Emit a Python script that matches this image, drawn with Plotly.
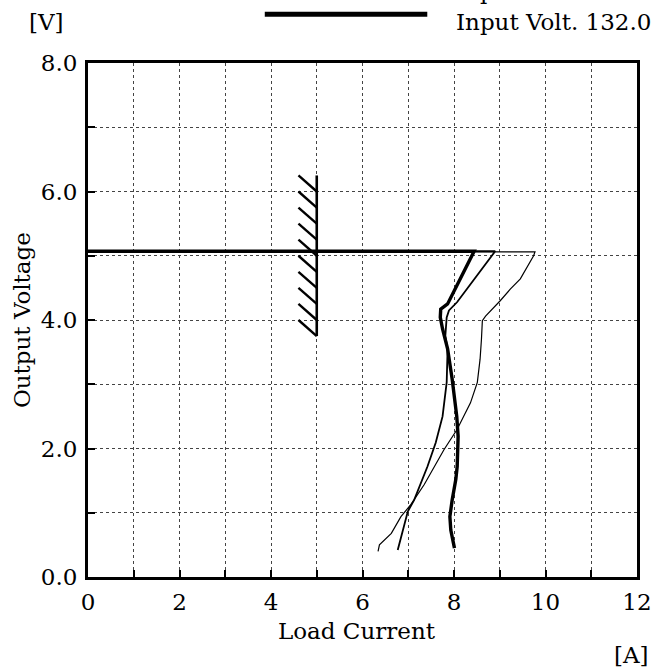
import numpy as np
import plotly.graph_objects as go

# Output voltage vs. load current (foldback characteristic) for three input voltages
# Heaviest trace: Input Volt. 132.0
i_132 = [0.0, 8.44, 7.86, 7.71, 7.70, 7.75, 7.86, 7.96, 8.06, 8.09, 8.07, 8.04, 7.96, 7.91, 7.93, 8.01]
v_132 = [5.07, 5.07, 4.25, 4.17, 4.04, 3.86, 3.55, 3.08, 2.50, 2.19, 1.72, 1.52, 1.20, 0.94, 0.73, 0.45]

# Medium-weight trace
i_mid = [0.0, 8.90, 8.07, 7.89, 7.84, 7.81, 7.86, 7.84, 7.75, 7.60, 7.42, 7.20, 7.13, 6.99, 6.88, 6.77]
v_mid = [5.07, 5.07, 4.28, 4.15, 4.04, 3.75, 3.55, 3.03, 2.50, 2.09, 1.72, 1.31, 1.20, 1.02, 0.73, 0.42]

# Thin trace
i_thin = [0.0, 9.77, 9.74, 9.45, 9.23, 9.01, 8.69, 8.62, 8.60, 8.57, 8.51, 8.36, 8.07, 7.78, 7.35, 7.06, 6.84, 6.63, 6.37, 6.34]
v_thin = [5.07, 5.06, 5.00, 4.64, 4.48, 4.30, 4.06, 3.99, 3.70, 3.39, 3.03, 2.71, 2.30, 1.98, 1.44, 1.13, 0.94, 0.68, 0.50, 0.40]

# Rated-current limit marker (hatched bar)
limit_current = 5.0
limit_v_top = 6.25
limit_v_bottom = 3.75
hatch_count = 10
hatch_dx = 0.4

x_ticks = [0, 2, 4, 6, 8, 10, 12]
y_ticks = [0.0, 2.0, 4.0, 6.0, 8.0]

FONT = "DejaVu Serif"
FSIZE = 23

fig = go.Figure()

# hatch strokes built from the limit spec
step = (limit_v_top - limit_v_bottom) / hatch_count
hx, hy = [], []
for k in range(hatch_count):
    y0 = limit_v_top - k * step
    hx += [limit_current - hatch_dx, limit_current, None]
    hy += [y0, y0 - step, None]
fig.add_trace(go.Scatter(x=hx, y=hy, mode="lines",
                         line=dict(color="black", width=2.4), hoverinfo="skip"))
fig.add_trace(go.Scatter(x=[limit_current, limit_current], y=[limit_v_bottom, limit_v_top],
                         mode="lines", line=dict(color="black", width=2.6), hoverinfo="skip"))

fig.add_trace(go.Scatter(x=i_thin, y=v_thin, mode="lines",
                         line=dict(color="black", width=1.2)))
fig.add_trace(go.Scatter(x=i_mid, y=v_mid, mode="lines",
                         line=dict(color="black", width=1.8)))
fig.add_trace(go.Scatter(x=i_132, y=v_132, mode="lines",
                         line=dict(color="black", width=3.4)))

axis_common = dict(
    showline=True, mirror=True, linecolor="black", linewidth=3,
    showgrid=True, gridcolor="#444", gridwidth=1, griddash="dot",
    zeroline=False, ticks="inside", ticklen=7, tickwidth=1.5, tickcolor="black",
    tickfont=dict(family=FONT, size=FSIZE, color="black"),
)
minor_common = dict(dtick=1, ticks="inside", ticklen=7, tickwidth=1.5, tickcolor="black",
                    showgrid=True, gridcolor="#444", gridwidth=1, griddash="dot")

fig.update_xaxes(range=[0, 12], tickvals=x_ticks, minor=minor_common,
                 ticklabelstandoff=2, **axis_common)
fig.update_yaxes(range=[0, 8], tickvals=y_ticks, tickformat=".1f", minor=minor_common,
                 ticklabelstandoff=3, **axis_common)

txt = dict(family=FONT, size=FSIZE, color="black")
annotations = [
    dict(text="Load Current", x=0.49, y=-0.106, xref="paper", yref="paper",
         xanchor="center", yanchor="middle", showarrow=False, font=txt),
    dict(text="[A]", x=1.025, y=-0.152, xref="paper", yref="paper",
         xanchor="right", yanchor="middle", showarrow=False, font=txt),
    dict(text="Output Voltage", x=-0.12, y=0.5, xref="paper", yref="paper",
         xanchor="center", yanchor="middle", textangle=-90, showarrow=False, font=txt),
    dict(text="[V]", x=-0.076, y=1.08, xref="paper", yref="paper",
         xanchor="center", yanchor="middle", showarrow=False, font=txt),
    dict(text="Input Volt. 132.0", x=0.667, y=1.08, xref="paper", yref="paper",
         xanchor="left", yanchor="middle", showarrow=False, font=txt),
    dict(text="Input Volt. 100.0", x=0.667, y=1.1105, xref="paper", yref="paper",
         xanchor="left", yanchor="bottom", showarrow=False, font=txt),
]

fig.update_layout(
    width=664, height=667,
    margin=dict(l=88, r=23, t=63, b=90),
    paper_bgcolor="white", plot_bgcolor="white",
    showlegend=False,
    annotations=annotations,
    shapes=[dict(type="line", xref="paper", yref="paper",
                 x0=0.322, x1=0.618, y0=1.095, y1=1.095,
                 line=dict(color="black", width=5))],
)

fig.write_html("out.html")
